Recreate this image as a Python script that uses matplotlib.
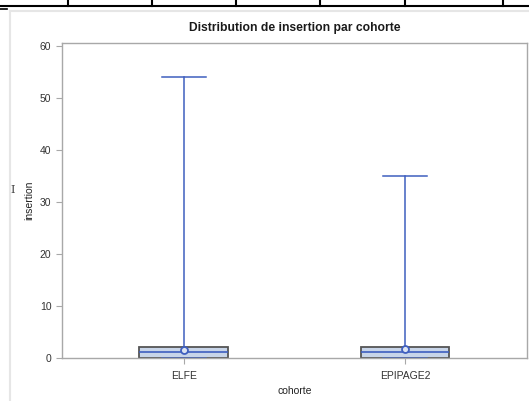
import numpy as np
import matplotlib
matplotlib.use("Agg")
import matplotlib.pyplot as plt
from matplotlib.lines import Line2D

plt.rcParams['font.family'] = ['Liberation Sans', 'DejaVu Sans']

# box statistics
cohortes = ['ELFE', 'EPIPAGE2']
q1 = [0, 0]
medians = [1, 1]
q3 = [2, 2]
whis_lo = [0, 0]
whis_hi = [54, 35]
means = [1.45, 1.6]
yticks = [0, 10, 20, 30, 40, 50, 60]

stats = []
for i, name in enumerate(cohortes):
    stats.append({
        'label': name, 'q1': q1[i], 'med': medians[i], 'q3': q3[i],
        'whislo': whis_lo[i], 'whishi': whis_hi[i], 'mean': means[i], 'fliers': []
    })

blue = '#3F5FBF'
fig = plt.figure(figsize=(5.29, 4.01), dpi=100)
ax = fig.add_axes([0.117, 0.107, 0.879, 0.787])

ax.bxp(stats, positions=[0, 1], widths=0.4, showmeans=True, patch_artist=True,
       boxprops=dict(facecolor='#C8D5E9', edgecolor='#555555', linewidth=1.3),
       medianprops=dict(color=blue, linewidth=1.2),
       whiskerprops=dict(color=blue, linewidth=1.1),
       capprops=dict(color=blue, linewidth=1.1),
       meanprops=dict(marker='o', markersize=5, markerfacecolor='#DCE4F2',
                      markeredgecolor=blue, markeredgewidth=1.3),
       capwidths=0.2)

ax.set_xlim(-0.55, 1.55)
ax.set_ylim(-0.1, 60.6)
ax.set_yticks(yticks)
ax.set_xticks([0, 1])
ax.set_xticklabels(cohortes)

for s in ax.spines.values():
    s.set_color('#A8A8A8')
    s.set_linewidth(1.0)
ax.tick_params(colors='#A8A8A8', labelcolor='#333333', labelsize=7.5, length=4, width=0.8)
ax.tick_params(axis='x', pad=5)

ax.set_title('Distribution de insertion par cohorte', fontsize=8.7, fontweight='bold',
             color='#1A1A1A', pad=8)
ax.set_xlabel('cohorte', fontsize=7.5, color='#222222', labelpad=4)
ax.set_ylabel('insertion', fontsize=7.5, color='#222222', labelpad=4)

# surrounding page decoration (table lines above, frame at left)
fig.add_artist(Line2D([0, 1], [1 - 6 / 401, 1 - 6 / 401], color='black', lw=1.5,
                      transform=fig.transFigure))
for xv in [68, 152, 236, 320, 405, 503]:
    fig.add_artist(Line2D([xv / 529, xv / 529], [1 - 6 / 401, 1], color='black', lw=1.5,
                          transform=fig.transFigure))
fig.add_artist(Line2D([0, 7 / 529], [1 - 9 / 401, 1 - 9 / 401], color='black', lw=1.2,
                      transform=fig.transFigure))
fig.add_artist(Line2D([10 / 529, 10 / 529], [0, 1 - 11 / 401], color='#E6E6E6', lw=1.5,
                      transform=fig.transFigure))
fig.add_artist(Line2D([10 / 529, 1], [1 - 11 / 401, 1 - 11 / 401], color='#E6E6E6', lw=1.5,
                      transform=fig.transFigure))
fig.text(13 / 529, 1 - 190 / 401, 'I', fontsize=8, family='DejaVu Serif',
         color='#444444', ha='center', va='center')

fig.savefig('out.png', dpi=100)
